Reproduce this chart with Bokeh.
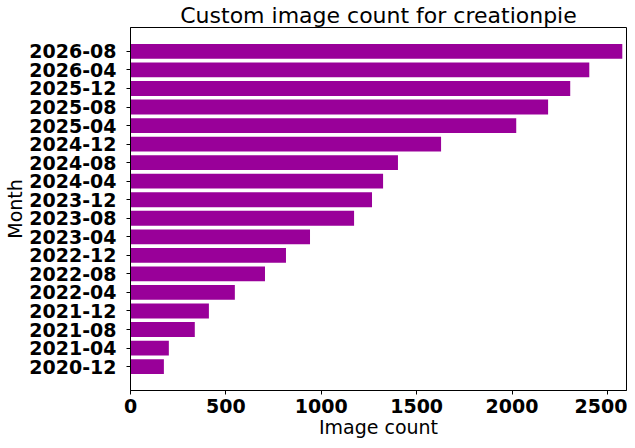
from bokeh.plotting import figure
from bokeh.models import Range1d, FixedTicker
from bokeh.embed import file_html
from bokeh.resources import INLINE

months = ["2020-12", "2021-04", "2021-08", "2021-12", "2022-04", "2022-08",
          "2022-12", "2023-04", "2023-08", "2023-12", "2024-04", "2024-08",
          "2024-12", "2025-04", "2025-08", "2025-12", "2026-04", "2026-08"]
counts = [175, 201, 337, 411, 547, 705, 815, 941, 1172, 1266, 1324, 1402,
          1628, 2022, 2189, 2305, 2405, 2578]
x_ticks = [0, 500, 1000, 1500, 2000, 2500]

ypos = list(range(len(months)))

p = figure(width=627, height=440, output_backend="svg", toolbar_location=None,
           x_range=Range1d(0, 2600), y_range=Range1d(-1.29, 18.29),
           title="Custom image count for creationpie",
           min_border_left=130, min_border_right=1, min_border_top=0, min_border_bottom=0)

p.hbar(y=ypos, right=counts, left=0, height=0.8, fill_color="#990099", line_color=None)

p.title.text_font = "DejaVu Sans"
p.title.text_font_size = "22px"
p.title.text_font_style = "normal"
p.title.align = "center"
p.title.text_color = "black"
p.title.standoff = 0
p.title.text_line_height = 0.75

p.xaxis.ticker = FixedTicker(ticks=x_ticks)
p.yaxis.ticker = FixedTicker(ticks=ypos)
p.yaxis.major_label_overrides = {i: m for i, m in enumerate(months)}

p.xaxis.axis_label = "Image count"
p.yaxis.axis_label = "Month"

for ax in (p.xaxis[0], p.yaxis[0]):
    ax.axis_label_text_font = "DejaVu Sans"
    ax.axis_label_text_font_size = "19px"
    ax.axis_label_text_font_style = "normal"
    ax.axis_label_text_color = "black"
    ax.major_label_text_font = "DejaVu Sans"
    ax.major_label_text_font_size = "19px"
    ax.major_label_text_font_style = "bold"
    ax.major_label_text_color = "black"
    ax.major_tick_out = 4
    ax.major_tick_in = 0
    ax.minor_tick_out = 0
    ax.minor_tick_in = 0
    ax.axis_line_color = "black"
    ax.major_tick_line_color = "black"

p.yaxis.major_label_standoff = 10
p.yaxis.axis_label_standoff = 0
p.xaxis.major_label_standoff = 4
p.xaxis.axis_label_standoff = 0
p.xaxis.axis_label_text_line_height = 0.8

p.xgrid.visible = False
p.ygrid.visible = False
p.outline_line_color = "black"
p.outline_line_alpha = 1.0
p.background_fill_color = "white"
p.border_fill_color = "white"

open("out.html", "w").write(file_html(p, INLINE))
